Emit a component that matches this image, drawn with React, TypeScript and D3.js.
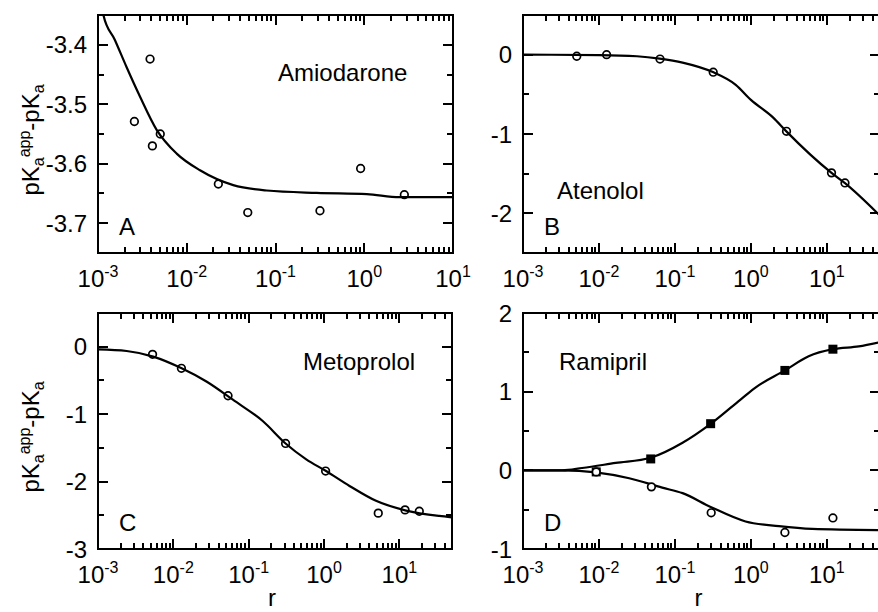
import React from "react";
import * as d3 from "d3";

// ---- data (r, pKa_app - pKa) ----
const amiodaronePoints = [
  [0.00257, -3.529], [0.00386, -3.424], [0.0041, -3.57], [0.00503, -3.55],
  [0.0227, -3.634], [0.0487, -3.682], [0.317, -3.679], [0.91, -3.608], [2.83, -3.652],
];
const amiodaroneFit = [
  [0.001, -3.3], [0.00115, -3.35], [0.00155, -3.392], [0.00209, -3.437], [0.00297, -3.487],
  [0.00458, -3.543], [0.0077, -3.583], [0.0141, -3.611], [0.0334, -3.636], [0.0794, -3.645],
  [0.291, -3.649], [1.07, -3.651], [2.5, -3.656], [10, -3.656],
];

const atenololPoints = [
  [0.0051, -0.02], [0.0126, 0.0], [0.0636, -0.055], [0.319, -0.221],
  [2.94, -0.966], [11.5, -1.49], [17.3, -1.617],
];
const atenololFit = [
  [0.001, 0], [0.01, -0.005], [0.0316, -0.02], [0.063, -0.05], [0.126, -0.1],
  [0.316, -0.22], [0.631, -0.38], [1.0, -0.57], [1.95, -0.79], [2.95, -0.97],
  [11.5, -1.49], [17.3, -1.62], [50, -2.03],
];

const metoprololPoints = [
  [0.0053, -0.113], [0.0128, -0.32], [0.0532, -0.727], [0.309, -1.435],
  [1.05, -1.844], [5.25, -2.468], [11.9, -2.42], [18.4, -2.44],
];
const metoprololFit = [
  [0.001, -0.04], [0.0024, -0.064], [0.0054, -0.147], [0.0129, -0.32], [0.0275, -0.516],
  [0.0617, -0.786], [0.155, -1.106], [0.309, -1.435], [0.581, -1.67], [1.05, -1.84],
  [2.18, -2.065], [4.9, -2.286], [12.3, -2.43], [33.9, -2.51], [50, -2.53],
];

const ramiprilSquares = [
  [0.0092, -0.02], [0.048, 0.145], [0.295, 0.593], [2.8, 1.27], [12, 1.54],
];
const ramiprilCircles = [
  [0.0092, -0.02], [0.049, -0.21], [0.3, -0.54], [2.8, -0.79], [12, -0.605],
];
const ramiprilFitUpper = [
  [0.001, 0], [0.0033, 0.0], [0.006, 0.03], [0.0166, 0.094], [0.048, 0.16],
  [0.126, 0.35], [0.295, 0.59], [0.73, 0.9], [1.1, 1.04], [2.8, 1.27],
  [5.75, 1.45], [12, 1.54], [26.3, 1.576], [50, 1.63],
];
const ramiprilFitLower = [
  [0.001, 0], [0.0033, 0], [0.0091, -0.025], [0.025, -0.1], [0.068, -0.22],
  [0.126, -0.29], [0.295, -0.465], [0.85, -0.65], [2.34, -0.71], [6.4, -0.745], [50, -0.76],
];

const xTickExponents = [-3, -2, -1, 0, 1];
const ticksA = [-3.4, -3.5, -3.6, -3.7];
const ticksB = [0, -1, -2];
const ticksC = [0, -1, -2, -3];
const ticksD = [2, 1, 0, -1];

const FONT = "'Liberation Sans', Arial, Helvetica, sans-serif";

const panels = [
  {
    id: "A", name: "Amiodarone", nameX: 278, nameY: 81,
    left: 98, right: 453, top: 15, bottom: 253,
    xDomain: [0.001, 10], yDomain: [-3.75, -3.35], yTicks: ticksA, yMinor: 0.05,
    curves: [amiodaroneFit], circles: amiodaronePoints, squares: [],
    yTitle: true, xTitle: false,
  },
  {
    id: "B", name: "Atenolol", nameX: 557, nameY: 199,
    left: 523, right: 880, top: 15, bottom: 253,
    xDomain: [0.001, 50], yDomain: [-2.5, 0.5], yTicks: ticksB, yMinor: 0.5,
    curves: [atenololFit], circles: atenololPoints, squares: [],
    yTitle: false, xTitle: false,
  },
  {
    id: "C", name: "Metoprolol", nameX: 303, nameY: 370,
    left: 98, right: 452, top: 313, bottom: 549,
    xDomain: [0.001, 50], yDomain: [-3, 0.5], yTicks: ticksC, yMinor: 0.5,
    curves: [metoprololFit], circles: metoprololPoints, squares: [],
    yTitle: true, xTitle: true,
  },
  {
    id: "D", name: "Ramipril", nameX: 559, nameY: 370,
    left: 523, right: 880, top: 313, bottom: 549,
    xDomain: [0.001, 50], yDomain: [-1, 2], yTicks: ticksD, yMinor: 0.5,
    curves: [ramiprilFitUpper, ramiprilFitLower], circles: ramiprilCircles, squares: ramiprilSquares,
    yTitle: false, xTitle: true,
  },
];

function Panel({ p }) {
  const x = d3.scaleLog().domain(p.xDomain).range([p.left, p.right]);
  const y = d3.scaleLinear().domain(p.yDomain).range([p.bottom, p.top]);
  const line = d3.line()
    .x((d) => x(d[0]))
    .y((d) => y(d[1]))
    .curve(d3.curveMonotoneX);
  const clipId = `clip-${p.id}`;

  const xTicks = x.ticks().map((v) => ({
    px: Math.round(x(v)),
    len: Math.abs(Math.log10(v) - Math.round(Math.log10(v))) < 1e-9 ? 10 : 6,
  }));
  const [y0, y1] = p.yDomain;
  const n = Math.round((y1 - y0) / p.yMinor);
  const yTicks = d3.range(n + 1).map((i) => {
    const v = y0 + i * p.yMinor;
    return { py: Math.round(y(v)), len: p.yTicks.some((t) => Math.abs(t - v) < 1e-6) ? 10 : 6 };
  });

  // all tick marks in one path, pointing inward on the four sides
  const tickPath = [
    ...xTicks.map((t) => `M${t.px},${p.bottom}V${p.bottom - t.len}M${t.px},${p.top}V${p.top + t.len}`),
    ...yTicks.map((t) => `M${p.left},${t.py}H${p.left + t.len}M${p.right},${t.py}H${p.right - t.len}`),
  ].join("");

  const cy = (p.top + p.bottom) / 2 + 6;

  return (
    <g fontFamily={FONT} fill="#000">
      <defs>
        <clipPath id={clipId}>
          <rect x={p.left} y={p.top} width={p.right - p.left} height={p.bottom - p.top} />
        </clipPath>
      </defs>

      <rect x={p.left} y={p.top} width={p.right - p.left} height={p.bottom - p.top}
        fill="none" stroke="#000" strokeWidth={2} />
      <path d={tickPath} fill="none" stroke="#000" strokeWidth={2} />

      {p.yTicks.map((v) => (
        <text key={`yl${v}`} x={p.left - 11} y={y(v)} dy="0.36em" textAnchor="end" fontSize={24}>
          {String(v)}
        </text>
      ))}
      {xTickExponents.map((e) => (
        <text key={`xl${e}`} x={x(Math.pow(10, e))} y={p.bottom + 34} textAnchor="middle" fontSize={24}>
          <tspan>10</tspan>
          <tspan dy={-10} fontSize={16}>{String(e)}</tspan>
        </text>
      ))}

      <g clipPath={`url(#${clipId})`}>
        {p.curves.map((c, i) => (
          <path key={`c${i}`} d={line(c)} fill="none" stroke="#000" strokeWidth={2.2} />
        ))}
        {p.squares.map((d, i) => (
          <rect key={`s${i}`} x={x(d[0]) - 4.5} y={y(d[1]) - 4.5} width={9} height={9} fill="#000" />
        ))}
        {p.circles.map((d, i) => (
          <circle key={`o${i}`} cx={x(d[0])} cy={y(d[1])} r={3.8}
            fill={p.squares.length ? "#fff" : "none"} stroke="#000" strokeWidth={1.7} />
        ))}
      </g>

      <text x={p.nameX} y={p.nameY} fontSize={24}>{p.name}</text>
      <text x={p.left + 21} y={p.bottom - 18} fontSize={24}>{p.id}</text>

      {p.xTitle && (
        <text x={(p.left + p.right) / 2 - 3} y={606} textAnchor="middle" fontSize={24}>r</text>
      )}
      {p.yTitle && (
        <text transform={`translate(39,${cy}) rotate(-90)`} textAnchor="middle" fontSize={24}>
          <tspan>pK</tspan>
          <tspan dy={5} fontSize={16}>a</tspan>
          <tspan dy={-14} fontSize={16}>app</tspan>
          <tspan dy={9}>-pK</tspan>
          <tspan dy={5} fontSize={16}>a</tspan>
        </text>
      )}
    </g>
  );
}

export default function App() {
  return (
    <svg
      width={878}
      height={612}
      style={{ position: "absolute", left: 0, top: 0, background: "#fff" }}
    >
      {panels.map((p) => (
        <Panel key={p.id} p={p} />
      ))}
    </svg>
  );
}
